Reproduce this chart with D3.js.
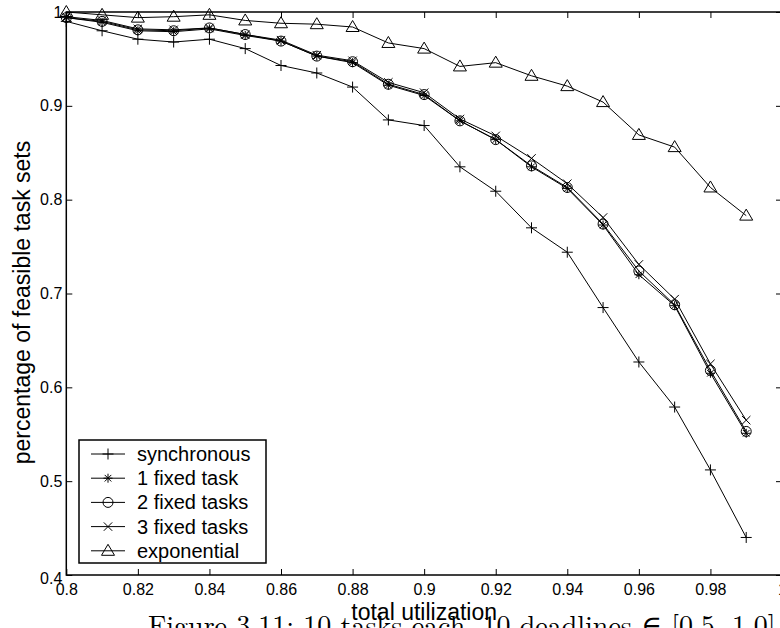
<!DOCTYPE html>
<html>
<head>
<meta charset="utf-8">
<script src="https://cdn.jsdelivr.net/npm/d3@7"></script>
<style>
  body { margin: 0; background: #fff; }
  svg { display: block; font-family: "Liberation Sans", Arial, sans-serif; }
</style>
</head>
<body>
<svg id="chart" width="780" height="628"></svg>
<script>
// total utilization (x) and the five series
var utilization = [0.80, 0.81, 0.82, 0.83, 0.84, 0.85, 0.86, 0.87, 0.88, 0.89,
                   0.90, 0.91, 0.92, 0.93, 0.94, 0.95, 0.96, 0.97, 0.98, 0.99];
var synchronous = [0.990, 0.980, 0.971, 0.968, 0.971, 0.961, 0.943, 0.935, 0.920, 0.885,
                   0.879, 0.835, 0.809, 0.770, 0.744, 0.685, 0.627, 0.579, 0.512, 0.440];
var oneFixed    = [0.994, 0.989, 0.980, 0.979, 0.982, 0.975, 0.969, 0.953, 0.946, 0.922,
                   0.911, 0.884, 0.864, 0.835, 0.812, 0.773, 0.720, 0.687, 0.615, 0.551];
var twoFixed    = [0.994, 0.990, 0.981, 0.980, 0.983, 0.976, 0.969, 0.953, 0.947, 0.923,
                   0.912, 0.884, 0.864, 0.836, 0.813, 0.774, 0.724, 0.688, 0.618, 0.553];
var threeFixed  = [0.995, 0.991, 0.982, 0.981, 0.983, 0.976, 0.970, 0.954, 0.948, 0.925,
                   0.914, 0.886, 0.868, 0.844, 0.817, 0.781, 0.731, 0.694, 0.625, 0.565];
var exponential = [1.000, 0.997, 0.994, 0.995, 0.997, 0.991, 0.988, 0.987, 0.984, 0.967,
                   0.961, 0.942, 0.946, 0.932, 0.921, 0.904, 0.869, 0.856, 0.813, 0.783];

var seriesNames = ["synchronous", "1 fixed task", "2 fixed tasks", "3 fixed tasks", "exponential"];
var seriesValues = [synchronous, oneFixed, twoFixed, threeFixed, exponential];
var seriesMarkers = ["plus", "star", "circle", "times", "triangle"];

var xTicks = [0.8, 0.82, 0.84, 0.86, 0.88, 0.9, 0.92, 0.94, 0.96, 0.98, 1];
var yTicks = [0.4, 0.5, 0.6, 0.7, 0.8, 0.9, 1];

// plot box (right edge runs past the page, as in the original)
var plotL = 66.3, plotR = 782, plotT = 12, plotB = 575;

var svg = d3.select("#chart");
var x = d3.scaleLinear().domain([0.8, 1]).range([plotL, plotR]);
var y = d3.scaleLinear().domain([0.4, 1]).range([plotB, plotT]);

// marker shapes, drawn around (0,0)
function markerPath(type) {
  var p = d3.path();
  if (type == "plus") {
    p.moveTo(-5.5, 0); p.lineTo(5.5, 0); p.moveTo(0, -5.5); p.lineTo(0, 5.5);
  } else if (type == "times") {
    p.moveTo(-4.2, -4.2); p.lineTo(4.2, 4.2); p.moveTo(-4.2, 4.2); p.lineTo(4.2, -4.2);
  } else if (type == "star") {
    p.moveTo(-4.5, 0); p.lineTo(4.5, 0); p.moveTo(0, -4.5); p.lineTo(0, 4.5);
    p.moveTo(-3.3, -3.3); p.lineTo(3.3, 3.3); p.moveTo(-3.3, 3.3); p.lineTo(3.3, -3.3);
  } else if (type == "circle") {
    p.moveTo(5, 0); p.arc(0, 0, 5, 0, 2 * Math.PI);
  } else if (type == "triangle") {
    p.moveTo(0, -6.5); p.lineTo(6.5, 4.5); p.lineTo(-6.5, 4.5); p.closePath();
  }
  return p.toString();
}

// axes: box with inward ticks
svg.append("g")
  .attr("transform", "translate(0," + plotB + ")")
  .call(d3.axisBottom(x).tickValues(xTicks).tickSizeInner(-6).tickSizeOuter(0).tickPadding(9)
        .tickFormat(function(d) { return d3.format("")(+d.toFixed(2)); }))
  .call(function(g) { g.select(".domain").remove(); });
svg.append("g")
  .attr("transform", "translate(0," + plotT + ")")
  .call(d3.axisTop(x).tickValues(xTicks).tickSizeInner(-6).tickSizeOuter(0).tickFormat(""))
  .call(function(g) { g.select(".domain").remove(); });
var yAxisG = svg.append("g")
  .attr("transform", "translate(" + plotL + ",0)")
  .call(d3.axisLeft(y).tickValues(yTicks).tickSizeInner(-6).tickSizeOuter(0).tickPadding(4)
        .tickFormat(function(d) { return d3.format("")(+d.toFixed(1)); }))
  .call(function(g) { g.select(".domain").remove(); });
svg.append("g")
  .attr("transform", "translate(" + plotR + ",0)")
  .call(d3.axisRight(y).tickValues(yTicks).tickSizeInner(-6).tickSizeOuter(0).tickFormat(""))
  .call(function(g) { g.select(".domain").remove(); });

svg.selectAll(".tick line").attr("stroke", "#000").attr("stroke-width", 1);
svg.selectAll(".tick text").attr("font-size", 16).attr("fill", "#000")
  .attr("font-family", "'Liberation Sans', Arial, sans-serif");
// lowest y label sits a little below its tick, clear of the x labels
yAxisG.selectAll(".tick text").filter(function(d) { return d == 0.4; }).attr("dy", "0.5em");

svg.append("rect")
  .attr("x", plotL).attr("y", plotT)
  .attr("width", plotR - plotL).attr("height", plotB - plotT)
  .attr("fill", "none").attr("stroke", "#000").attr("stroke-width", 1.5);

// series lines and markers
var line = d3.line()
  .x(function(d) { return x(d[0]); })
  .y(function(d) { return y(d[1]); });

seriesValues.forEach(function(vals, s) {
  var pts = utilization.map(function(u, i) { return [u, vals[i]]; });
  var g = svg.append("g").attr("class", "series");
  g.append("path").datum(pts)
    .attr("d", line)
    .attr("fill", "none").attr("stroke", "#000").attr("stroke-width", 1);
  g.selectAll("path.mark").data(pts).enter().append("path")
    .attr("class", "mark")
    .attr("transform", function(d) { return "translate(" + x(d[0]) + "," + y(d[1]) + ")"; })
    .attr("d", markerPath(seriesMarkers[s]))
    .attr("fill", "none").attr("stroke", "#000").attr("stroke-width", 1);
});

// legend
var legend = svg.append("g").attr("transform", "translate(79,440)");
legend.append("rect")
  .attr("width", 187).attr("height", 123)
  .attr("fill", "#fff").attr("stroke", "#000").attr("stroke-width", 1.5);
seriesNames.forEach(function(name, i) {
  var ly = 14 + i * 24.2;
  legend.append("line").attr("x1", 12).attr("x2", 46).attr("y1", ly).attr("y2", ly)
    .attr("stroke", "#000").attr("stroke-width", 1);
  legend.append("path").attr("transform", "translate(29," + ly + ")")
    .attr("d", markerPath(seriesMarkers[i]))
    .attr("fill", "none").attr("stroke", "#000").attr("stroke-width", 1);
  legend.append("text").attr("x", 58).attr("y", ly).attr("dy", "0.35em")
    .attr("font-size", 20).text(name);
});

// axis titles
svg.append("text")
  .attr("x", x(0.9)).attr("y", 620)
  .attr("text-anchor", "middle").attr("font-size", 23)
  .text("total utilization");
svg.append("text")
  .attr("transform", "translate(30," + ((plotT + plotB) / 2 + 9) + ") rotate(-90)")
  .attr("text-anchor", "middle").attr("font-size", 23)
  .text("percentage of feasible task sets");

// figure caption, cut off by the page edge
svg.append("text")
  .attr("x", 148).attr("y", 635)
  .attr("font-family", "'Latin Modern Roman', 'DejaVu Serif', serif")
  .attr("font-size", 28)
  .text("Figure 3.11: 10 tasks each, 10 deadlines \u2208 [0.5, 1.0]");
</script>
</body>
</html>
